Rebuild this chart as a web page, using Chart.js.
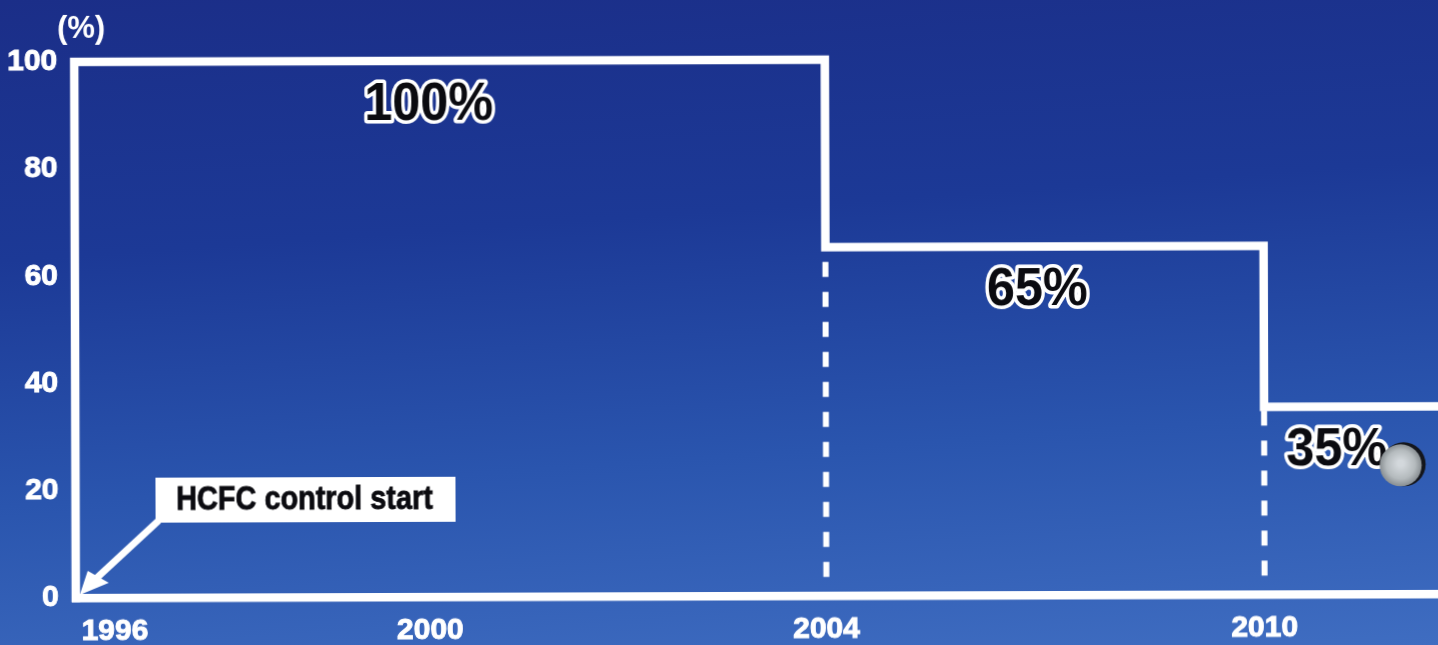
<!DOCTYPE html>
<html>
<head>
<meta charset="utf-8">
<title>HCFC control schedule</title>
<script src="https://cdn.jsdelivr.net/npm/chart.js@4/dist/chart.umd.min.js"></script>
<style>
	html, body { margin: 0; padding: 0; width: 1438px; height: 645px; overflow: hidden; }
	body { background: linear-gradient(176deg, #1b2e88 0%, #1c3996 35%, #2a55ae 68%, #3f6dc1 100%); }
	#wrap { width: 1438px; height: 645px; transform: rotate(-0.17deg); }
</style>
</head>
<body>
<div id="wrap"><canvas id="scheduleChart" width="1438" height="645"></canvas></div>
<script>
// step line: allowed consumption level from each year on
const stepYears = [1996, 1996, 2004, 2010, 2012.4];
const stepLevels = [0, 100, 65, 35, 35];

// dashed drops under the steps
const dropYears = [2004, 2010];
const dropTops = [65, 35];
const dropFloor = 3.5;

const yearTicks = [1996, 2000, 2004, 2010];
const levelTicks = [0, 20, 40, 60, 80, 100];

// "100%" etc, placed on the step they belong to
const stepLabels = ['100%', '65%', '35%'];
const stepLabelValues = [100, 65, 35];
const stepLabelYears = [2000, 2006.9, 2011];

const unitLabel = '(%)';
const calloutText = 'HCFC control start';

const FONT = '"Liberation Sans", Arial, sans-serif';

// linear axis whose year segments have their own widths
class ScheduleScale extends Chart.LinearScale {
	static id = 'schedule';
	static defaults = Chart.LinearScale.defaults;

	getPixelForValue(v) {
		const stops = [[1996, 0], [2000, 0.26], [2004, 0.5507], [2010, 0.8722], [2012.4, 1]];
		let i = 0;
		while (i < stops.length - 2 && v > stops[i + 1][0]) i++;
		const [a, fa] = stops[i];
		const [b, fb] = stops[i + 1];
		return this.left + this.width * (fa + (v - a) / (b - a) * (fb - fa));
	}

	_computeLabelItems(chartArea) {
		const items = super._computeLabelItems(chartArea);
		// first year sits clear of the corner and the arrow
		if (items.length) items[0].options.translation[0] += 39;
		return items;
	}
}
Chart.register(ScheduleScale);

function drawOutlined(ctx, text, x, y) {
	ctx.save();
	ctx.translate(x, y);
	ctx.scale(0.95, 1);
	ctx.font = 'bold 53px ' + FONT;
	ctx.textAlign = 'center';
	ctx.textBaseline = 'middle';
	ctx.lineJoin = 'round';
	ctx.lineWidth = 7;
	ctx.strokeStyle = '#ffffff';
	ctx.strokeText(text, 0, 0);
	ctx.fillStyle = '#0b0b10';
	ctx.fillText(text, 0, 0);
	ctx.restore();
}

// box plus arrow down to the origin of the axes
function drawCallout(ctx, x0, y0) {
	ctx.fillStyle = '#ffffff';
	ctx.fillRect(x0 + 80, y0 - 120, 300, 45);

	ctx.strokeStyle = '#ffffff';
	ctx.lineWidth = 7;
	ctx.lineCap = 'butt';
	ctx.beginPath();
	ctx.moveTo(x0 + 83, y0 - 77);
	ctx.lineTo(x0 + 20, y0 - 19);
	ctx.stroke();

	ctx.beginPath();
	ctx.moveTo(x0 + 4, y0 - 3);
	ctx.lineTo(x0 + 12, y0 - 27);
	ctx.lineTo(x0 + 33, y0 - 15);
	ctx.closePath();
	ctx.fill();

	// squeezed bold, the stroke brings the weight back up
	ctx.save();
	ctx.translate(x0 + 229, y0 - 97);
	ctx.scale(0.875, 1);
	ctx.font = 'bold 33px ' + FONT;
	ctx.textAlign = 'center';
	ctx.textBaseline = 'middle';
	ctx.fillStyle = '#0b0b10';
	ctx.strokeStyle = '#0b0b10';
	ctx.lineWidth = 0.8;
	ctx.strokeText(calloutText, 0, 0);
	ctx.fillText(calloutText, 0, 0);
	ctx.restore();
}

// small grey ball with a dark rim on its right side
function drawBall(ctx, x, y) {
	ctx.fillStyle = '#14161c';
	ctx.beginPath();
	ctx.arc(x + 3, y - 1, 22, 0, Math.PI * 2);
	ctx.fill();
	const g = ctx.createRadialGradient(x, y - 2, 3, x, y, 22);
	g.addColorStop(0, '#d3d8dc');
	g.addColorStop(0.6, '#b4babd');
	g.addColorStop(1, '#82888c');
	ctx.fillStyle = g;
	ctx.beginPath();
	ctx.arc(x, y, 21, 0, Math.PI * 2);
	ctx.fill();
}

const annotations = {
	id: 'annotations',
	afterDatasetsDraw(chart) {
		const { ctx, scales: { x, y } } = chart;
		ctx.save();

		ctx.fillStyle = '#ffffff';
		ctx.font = 'bold 31px ' + FONT;
		ctx.textAlign = 'center';
		ctx.textBaseline = 'middle';
		ctx.fillText(unitLabel, x.left + 7, y.top - 33);

		stepLabels.forEach((t, i) => {
			drawOutlined(ctx, t, x.getPixelForValue(stepLabelYears[i]), y.getPixelForValue(stepLabelValues[i]) + 44);
		});

		drawBall(ctx, x.getPixelForValue(2011.88), y.getPixelForValue(24));
		drawCallout(ctx, x.getPixelForValue(1996), y.getPixelForValue(0));
		ctx.restore();
	}
};

const dropSets = dropYears.map((yr, i) => ({
	label: 'drop ' + yr,
	data: [{ x: yr, y: dropFloor }, { x: yr, y: dropTops[i] }],
	borderColor: '#ffffff',
	borderWidth: 6,
	borderDash: [15, 15],
	pointRadius: 0
}));

const tickFont = { family: FONT, weight: 'bold', size: 30 };

new Chart(document.getElementById('scheduleChart'), {
	type: 'line',
	data: {
		datasets: [{
			label: 'HCFC consumption cap',
			data: stepYears.map((yr, i) => ({ x: yr, y: stepLevels[i] })),
			stepped: 'before',
			borderColor: '#ffffff',
			borderWidth: 8.5,
			borderJoinStyle: 'miter',
			borderCapStyle: 'square',
			pointRadius: 0,
			clip: false
		}, ...dropSets]
	},
	options: {
		responsive: false,
		animation: false,
		layout: { padding: { top: 60, right: 0, bottom: 0, left: 0 } },
		plugins: { legend: { display: false }, tooltip: { enabled: false }, title: { display: false } },
		scales: {
			x: {
				type: 'schedule',
				min: 1996,
				max: 2012.4,
				afterBuildTicks: s => { s.ticks = yearTicks.map(v => ({ value: v })); },
				afterFit: s => { s.height = 49; },
				grid: { display: false, drawTicks: false },
				border: { display: true, color: '#ffffff', width: 8.5 },
				ticks: {
					callback: v => String(v),
					color: '#ffffff',
					font: tickFont,
					textStrokeColor: '#ffffff',
					textStrokeWidth: 1,
					padding: 16,
					autoSkip: false,
					maxRotation: 0
				}
			},
			y: {
				min: 0,
				max: 100,
				afterBuildTicks: s => { s.ticks = levelTicks.map(v => ({ value: v })); },
				afterFit: s => { s.width = 75; },
				grid: { display: false, drawTicks: false },
				border: { display: false },
				ticks: {
					color: '#ffffff',
					font: tickFont,
					textStrokeColor: '#ffffff',
					textStrokeWidth: 1,
					padding: 17
				}
			}
		}
	},
	plugins: [annotations]
});
</script>
</body>
</html>
